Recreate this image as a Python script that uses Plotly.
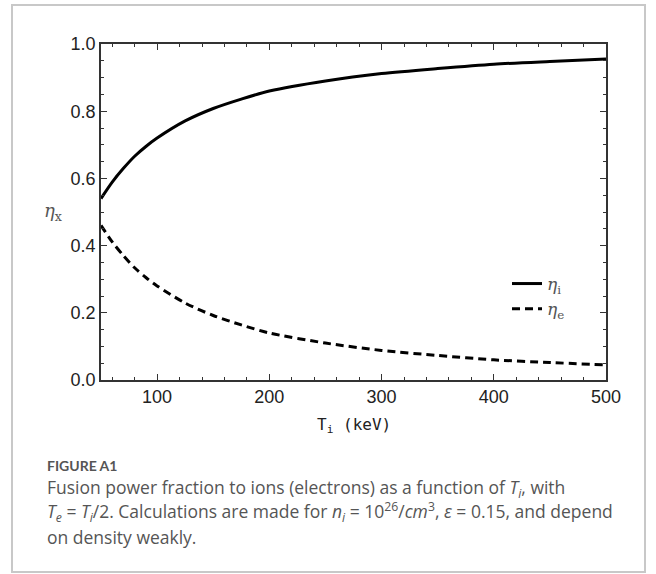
import plotly.graph_objects as go

# Data
T_i = [50, 60, 70, 80, 90, 100, 125, 150, 175, 200, 250, 300, 350, 400, 450, 500]
eta_i = [0.54, 0.589, 0.63, 0.666, 0.695, 0.72, 0.771, 0.808, 0.836, 0.86, 0.89, 0.912, 0.927, 0.94, 0.948, 0.955]
eta_e = [0.46, 0.411, 0.37, 0.334, 0.305, 0.28, 0.229, 0.192, 0.164, 0.14, 0.11, 0.088, 0.073, 0.06, 0.052, 0.045]

x_ticks = [100, 200, 300, 400, 500]
y_ticks = [0.0, 0.2, 0.4, 0.6, 0.8, 1.0]

W, H = 656, 574
L, R, T, B = 101, 50, 44, 194
pw, ph = W - L - R, H - T - B


def px(xp):
    return (xp - L) / pw


def py(yp):
    return (H - B - yp) / ph


fig = go.Figure()
fig.add_trace(go.Scatter(x=T_i, y=eta_i, mode="lines",
                         line=dict(color="black", width=3, shape="spline", smoothing=0.8),
                         name="<i>η</i><sub>i</sub>"))
fig.add_trace(go.Scatter(x=T_i, y=eta_e, mode="lines",
                         line=dict(color="black", width=3, dash="8px,5px", shape="spline", smoothing=0.8),
                         name="<i>η</i><sub>e</sub>"))

axis_common = dict(showline=True, linecolor="#333", linewidth=1.5, mirror="allticks",
                   ticks="inside", ticklen=6, tickcolor="#333", tickwidth=1.2,
                   showgrid=False, zeroline=False,
                   tickfont=dict(family="Liberation Sans, Arial", size=18, color="#222"))

fig.update_xaxes(range=[50, 500], tickvals=x_ticks,
                 minor=dict(dtick=20, tick0=0, ticks="inside", ticklen=3, tickcolor="#333", showgrid=False),
                 **axis_common)
fig.update_yaxes(range=[0, 1], tickvals=y_ticks, tickformat=".1f",
                 minor=dict(dtick=0.05, tick0=0, ticks="inside", ticklen=3, tickcolor="#333", showgrid=False),
                 **axis_common)

fig.add_shape(type="rect", xref="paper", yref="paper",
              x0=px(12), x1=px(645), y0=py(572), y1=py(5),
              line=dict(color="#c8c8c8", width=2), fillcolor="rgba(0,0,0,0)", layer="below")

cap_font = dict(family="Open Sans", size=17.5, color="#555")
annotations = [
    dict(text="<i>η</i><sub>x</sub>", x=px(53), y=py(212), font=dict(family="DejaVu Serif", size=18, color="#555"),
         xanchor="center", yanchor="middle"),
    dict(text="T<sub>i</sub> (keV)", x=0.5, y=py(425), font=dict(family="DejaVu Sans Mono", size=16, color="#222"),
         xanchor="center", yanchor="middle"),
    dict(text="<b>FIGURE A1</b>", x=px(45), y=py(465), font=dict(family="Lato", size=14, color="#555"),
         xanchor="left", yanchor="middle"),
    dict(text="Fusion power fraction to ions (electrons) as a function of <i>T<sub>i</sub></i>, with",
         x=px(45), y=py(488), font=cap_font, xanchor="left", yanchor="middle"),
    dict(text="<i>T<sub>e</sub></i> = <i>T<sub>i</sub></i>/2. Calculations are made for <i>n<sub>i</sub></i> = 10<sup>26</sup>/<i>cm</i><sup>3</sup>, <i>ε</i> = 0.15, and depend",
         x=px(45), y=py(512), font=cap_font, xanchor="left", yanchor="middle"),
    dict(text="on density weakly.",
         x=px(45), y=py(537), font=cap_font, xanchor="left", yanchor="middle"),
]
for a in annotations:
    a.update(xref="paper", yref="paper", showarrow=False)
fig.update_layout(annotations=annotations)

fig.update_layout(
    width=W, height=H,
    margin=dict(l=L, r=R, t=T, b=B),
    paper_bgcolor="white", plot_bgcolor="white",
    showlegend=True,
    legend=dict(x=px(507), y=py(266), xanchor="left", yanchor="top",
                font=dict(family="DejaVu Serif", size=17, color="#555"),
                bgcolor="rgba(0,0,0,0)", tracegroupgap=2),
)

fig.write_html("out.html", config={"displayModeBar": False},
               post_script="document.body.style.margin='0';")
